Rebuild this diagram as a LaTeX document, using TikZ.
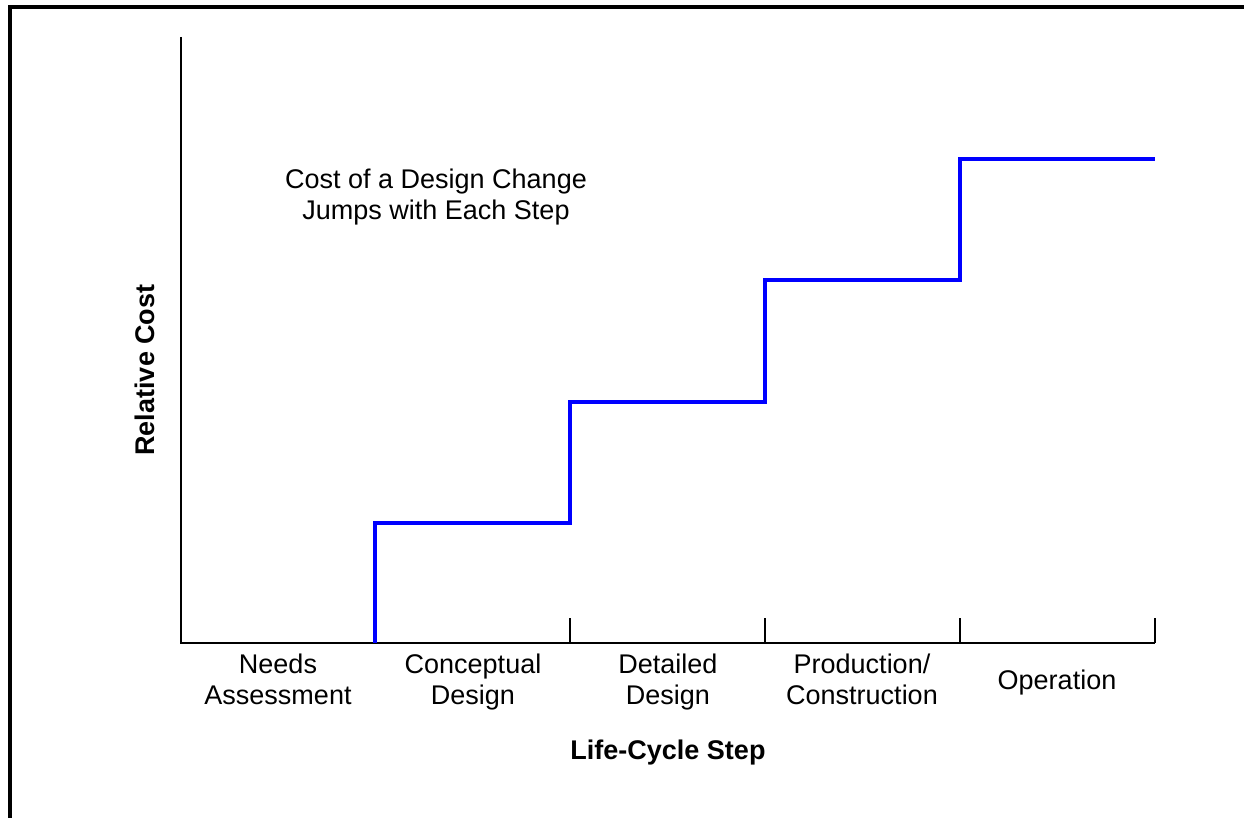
\documentclass[tikz,border=0pt]{standalone}
\usepackage{fontspec}
\setmainfont{Liberation Sans}
\usetikzlibrary{positioning,calc}
\tikzset{
  axis/.style={black, line width=1pt},
  stair/.style={blue, line width=1.6pt},
  steplabel/.style={align=center, font=\fontsize{13.5}{15.5}\selectfont},
  axislabel/.style={font=\fontsize{13.5}{15.5}\selectfont\bfseries}}
\begin{document}
\begin{tikzpicture}[x=0.5pt, y=-0.5pt]
\useasboundingbox (0,0) rectangle (1244,818);

% frame (top and left only)
\draw [line width=2pt] (10,818) -- (10,7) -- (1244,7);

\coordinate (o) at (181,643);
\coordinate (ytop) at (181,37);
\coordinate (xend) at (1155,643);
\draw [axis] (ytop) -- (o) -- (xend);

% ticks
\foreach \x in {570,765,960,1155}
  \draw [axis] (\x,643) -- (\x,618);

% step labels
\node (s1) [steplabel, anchor=north] at (278,647) {Needs\\Assessment};
\node (s2) [steplabel, anchor=north] at (473,647) {Conceptual\\Design};
\node (s3) [steplabel, anchor=north] at (668,647) {Detailed\\Design};
\node (s4) [steplabel, anchor=north] at (862,647) {Production/\\Construction};
\node (s5) [steplabel] at (1057,683) {Operation};

\node (xlab) [axislabel] at (668,753) {Life-Cycle Step};
\node (ylab) [axislabel, rotate=90] at (145,370) {Relative Cost};

% the stair
\coordinate (p0) at (375,643);
\coordinate (p1) at (375,523);
\coordinate (p2) at (570,523);
\coordinate (p3) at (570,402);
\coordinate (p4) at (765,402);
\coordinate (p5) at (765,280);
\coordinate (p6) at (960,280);
\coordinate (p7) at (960,159);
\coordinate (p8) at (1155,159);
\draw [stair] (p0) -- (p1) -- (p2) -- (p3) -- (p4) -- (p5) -- (p6) -- (p7) -- (p8);

\node (note) [steplabel] at (436,197) {Cost of a Design Change\\Jumps with Each Step};

\end{tikzpicture}
\end{document}
